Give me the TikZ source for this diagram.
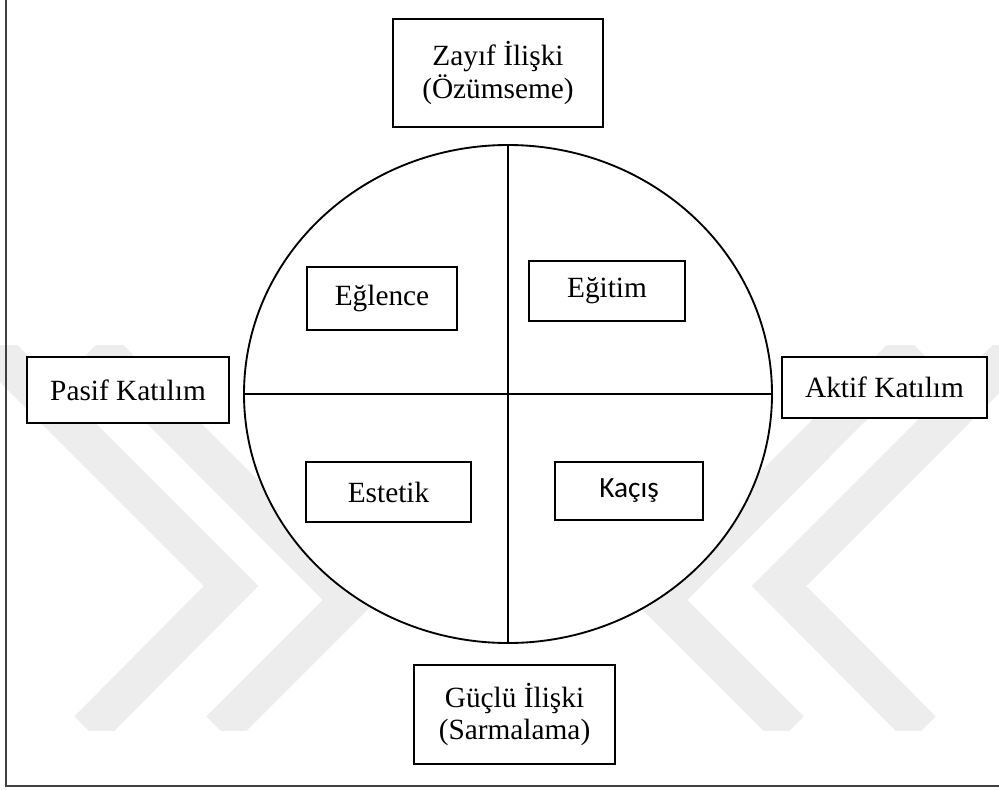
\documentclass[tikz,border=0pt]{standalone}
\usepackage{fontspec}
\setmainfont{Liberation Serif}
\newfontfamily\sansfont{Carlito}
\usetikzlibrary{shapes.geometric}

\begin{document}
\begin{tikzpicture}[x=0.75pt,y=-0.75pt,line width=1.4pt,
  box/.style={draw,line width=1.5pt,fill=white,inner sep=0pt,align=center,
    font=\fontsize{22}{24.5}\selectfont},
  wband/.style={draw=black!7,line width=29pt,line join=miter}]
  \useasboundingbox (0,0) rectangle (999,789);
  % watermark chevrons
  \begin{scope}
    \clip (0,345) rectangle (999,730);
    \foreach \xa/\xb/\yb/\xc in {-10/231/586/88, 96/350/600/220, 1020/779/586/922, 914/660/600/790}
      \draw[wband] (\xa,345) -- (\xb,\yb) -- (\xc,730);
  \end{scope}
  % page frame
  \draw[line width=1.5pt,black!75] (6,0) -- (6,786) -- (999,786);
  % wheel
  \node[draw,ellipse,fill=white,inner sep=0pt,minimum width=396pt,minimum height=373.5pt] (wheel) at (508,394) {};
  \draw (wheel.north) -- (wheel.south);
  \draw (wheel.west) -- (wheel.east);
  % outer labels
  \node[box,minimum width=157.5pt,minimum height=81pt] (weak) at (498,73) {Zayıf İlişki\\(Özümseme)};
  \node[box,minimum width=150.75pt,minimum height=74.25pt] (strong) at (514.5,714.5) {Güçlü İlişki\\(Sarmalama)};
  \node[box,minimum width=151.5pt,minimum height=49.5pt] (passive) at (128,390) {Pasif Katılım};
  \node[box,minimum width=153.75pt,minimum height=45.75pt] (active) at (884.5,387.5) {Aktif Katılım};
  % quadrants
  \node[box,minimum width=112.5pt,minimum height=47.25pt] (fun) at (382,298.5) {Eğlence};
  \node[box,minimum width=117pt,minimum height=45pt] (edu) at (607,291) {Eğitim};
  \node[box,minimum width=123.75pt,minimum height=45pt] (aes) at (388.5,492) {Estetik};
  \node[box,minimum width=111pt,minimum height=43.5pt] (esc) at (629,491) {\sansfont Kaçış};
\end{tikzpicture}
\end{document}
